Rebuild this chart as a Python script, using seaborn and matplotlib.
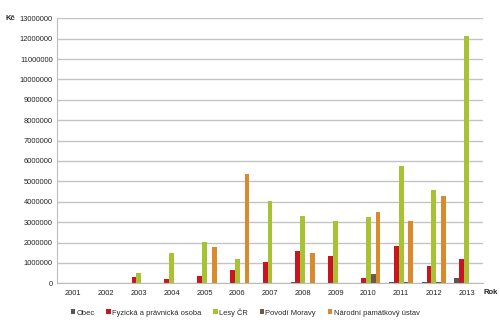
import numpy as np
import pandas as pd
import matplotlib
matplotlib.use("Agg")
import matplotlib.pyplot as plt
import seaborn as sns

years = ["2001", "2002", "2003", "2004", "2005", "2006", "2007",
         "2008", "2009", "2010", "2011", "2012", "2013"]
series = ["Obec", "Fyzická a právnická osoba", "Lesy ČR",
          "Povodí Moravy", "Národní památkový ústav"]
obec = [10000, 0, 0, 30000, 0, 0, 0, 50000, 0, 0, 80000, 70000, 240000]
fyzicka = [0, 0, 330000, 220000, 380000, 640000, 1040000, 1580000,
           1360000, 240000, 1810000, 850000, 1210000]
lesy = [0, 0, 500000, 1470000, 2030000, 1210000, 4020000, 3300000,
        3040000, 3260000, 5770000, 4570000, 12150000]
povodi = [0, 0, 0, 0, 0, 0, 0, 0, 30000, 440000, 80000, 40000, 0]
npu = [0, 0, 0, 0, 1770000, 5360000, 0, 1500000, 0, 3510000,
       3050000, 4260000, 0]
colors = ["#575757", "#c8151f", "#a7c232", "#6c5a45", "#d98a2c"]

values = [obec, fyzicka, lesy, povodi, npu]
rows = []
for s, vals in zip(series, values):
    for y, v in zip(years, vals):
        rows.append({"Rok": y, "Kč": v, "Série": s})
df = pd.DataFrame(rows)

sns.set_theme(style="white")
plt.rcParams["font.family"] = ["Liberation Sans", "DejaVu Sans"]

fig = plt.figure(figsize=(5, 3.28), dpi=100)
ax = fig.add_axes([0.114, 0.1363, 0.852, 0.808])
sns.barplot(data=df, x="Rok", y="Kč", hue="Série", hue_order=series,
            palette=colors, width=0.74, dodge=True, saturation=1,
            errorbar=None, ax=ax, legend=True, linewidth=0)

ax.set_ylim(0, 13000000)
ax.set_xlim(-0.5, len(years) - 0.5)
yt = np.arange(0, 13000001, 1000000)
ax.set_yticks(yt)
ax.set_yticklabels([str(int(v)) for v in yt])
ax.yaxis.grid(True, color="#c4c4c4", linewidth=1.0)
ax.set_axisbelow(True)
ax.set_xlabel("")
ax.set_ylabel("")
for sp in ["top", "right"]:
    ax.spines[sp].set_visible(False)
ax.spines["left"].set_color("#bcbcbc")
ax.spines["bottom"].set_color("#bcbcbc")
ax.spines["left"].set_linewidth(0.8)
ax.spines["bottom"].set_linewidth(0.8)
ax.tick_params(axis="y", length=0, labelsize=5.4, pad=3, colors="#222222")
ax.tick_params(axis="x", which="major", length=0, labelsize=5.4, pad=5,
               colors="#222222")
ax.set_xticks(np.arange(-0.5, len(years), 1.0), minor=True)
ax.tick_params(axis="x", which="minor", length=3, color="#bcbcbc", width=0.8)

handles, labels = ax.get_legend_handles_labels()
ax.get_legend().remove()
fig.legend(handles, labels, loc="center", bbox_to_anchor=(0.49, 0.048),
           ncol=5, frameon=False, fontsize=5.4, handlelength=0.6,
           handleheight=0.6, handletextpad=0.15, columnspacing=1.6)

fig.text(0.01, 0.944, "Kč", fontsize=5.5, fontweight="bold",
         va="center", ha="left", color="#222222")
fig.text(0.968, 0.107, "Rok", fontsize=5.5, fontweight="bold",
         va="center", ha="left", color="#222222")

fig.savefig("out.png", dpi=100)
